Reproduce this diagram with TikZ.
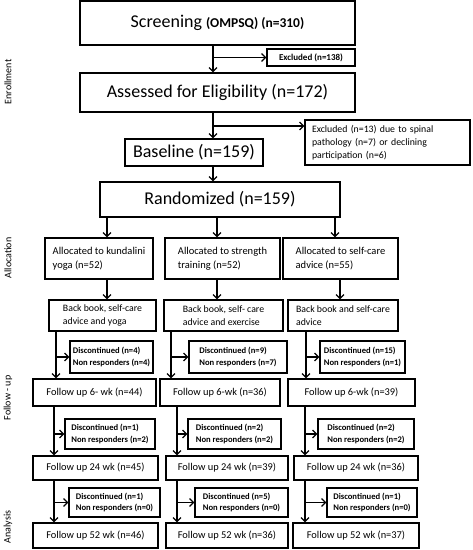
\documentclass[tikz,border=0pt]{standalone}
\usepackage{fontspec}
\setmainfont{Carlito}
\usetikzlibrary{arrows.meta}
\begin{document}
\begin{tikzpicture}[x=1pt,y=-1pt,
  box/.style={draw, line width=1.2pt, inner sep=0pt, align=center},
  big/.style={box, font=\fontsize{18}{21}\selectfont},
  fu/.style={box, font=\fontsize{10.4}{13}\selectfont},
  al/.style={box, align=left, font=\fontsize{10.5}{14}\selectfont},
  iv/.style={box, align=left, font=\fontsize{9.8}{12.5}\selectfont},
  dc/.style={box, align=left, font=\bfseries\fontsize{8.6}{11.5}\selectfont},
  ex/.style={box, align=left, font=\fontsize{9.8}{13}\selectfont},
  arr/.style={line width=1.2pt, -{Straight Barb[length=4pt,width=8pt]}},
  lab/.style={rotate=90, font=\fontsize{10}{12}\selectfont}]
\useasboundingbox (0,0) rectangle (473,550);

% side labels
\node[lab] (lenr) at (8,82) {Enrollment};
\node[lab] (lall) at (8,258) {Allocation};
\node[lab] (lfol) at (8,398) {Follow - up};
\node[lab] (lana) at (8,527) {Analysis};

% enrollment
\node[big, minimum width=275, minimum height=44] (scr) at (217.5,23)
  {Screening {\bfseries\fontsize{13.5}{15}\selectfont (OMPSQ) (n=310)}\strut};
\node[box, font=\bfseries\fontsize{9}{10}\selectfont, minimum width=88, minimum height=17] (ex1) at (311,57.5) {Excluded (n=138)};
\node[big, minimum width=275, minimum height=39] (ass) at (217.5,92.5) {Assessed for Eligibility (n=172)};
\node[ex, text width=151, inner xsep=7, minimum height=45] (ex2) at (387.5,142.5)
  {Excluded (n=13) due to spinal\\pathology (n=7) or declining\\participation (n=6)};
\node[big, minimum width=138, minimum height=27] (bas) at (194,152.5) {Baseline (n=159)};
\node[big, minimum width=240, minimum height=35] (rnd) at (220,199.5) {Randomized (n=159)};

% allocation
\node[al, minimum width=108, minimum height=41] (aL) at (99,258.5) {Allocated to kundalini\\yoga (n=52)};
\node[al, minimum width=115, minimum height=41] (aM) at (222.5,258.5) {Allocated to strength\\training (n=52)};
\node[al, minimum width=115, minimum height=41] (aR) at (340.5,258.5) {Allocated to self-care\\advice (n=55)};

\node[iv, minimum width=107, minimum height=31] (iL) at (102.5,315.5) {Back book, self-care\\advice and yoga};
\node[iv, minimum width=119, minimum height=31] (iM) at (223.5,315.5) {Back book, self- care\\advice and exercise};
\node[iv, minimum width=110, minimum height=31] (iR) at (343,315.5) {Back book and self-care\\advice};

% follow-up
\node[dc, minimum width=83, minimum height=32] (d1L) at (111.5,357) {Discontinued (n=4)\\Non responders (n=4)};
\node[dc, minimum width=98, minimum height=32] (d1M) at (238,357) {Discontinued (n=9)\\Non responders (n=7)};
\node[dc, minimum width=85, minimum height=32] (d1R) at (362.5,357) {Discontinued (n=15)\\Non responders (n=1)};

\node[fu, minimum width=123, minimum height=27] (f6L) at (94.5,392.5) {Follow up 6- wk (n=44)};
\node[fu, minimum width=120, minimum height=27] (f6M) at (220,392.5) {Follow up 6-wk (n=36)};
\node[fu, minimum width=127, minimum height=27] (f6R) at (351.5,392.5) {Follow up 6-wk (n=39)};

\node[dc, minimum width=90, minimum height=30] (d2L) at (110,434) {Discontinued (n=1)\\Non responders (n=2)};
\node[dc, minimum width=93, minimum height=30] (d2M) at (234.5,434) {Discontinued (n=2)\\Non responders (n=2)};
\node[dc, minimum width=96, minimum height=30] (d2R) at (366,434) {Discontinued (n=2)\\Non responders (n=2)};

\node[fu, minimum width=125, minimum height=24] (f24L) at (95.5,468) {Follow up 24 wk (n=45)};
\node[fu, minimum width=122, minimum height=24] (f24M) at (227,468) {Follow up 24 wk (n=39)};
\node[fu, minimum width=124, minimum height=24] (f24R) at (356,468) {Follow up 24 wk (n=36)};

% analysis
\node[dc, minimum width=91, minimum height=29] (d3L) at (114.5,502.5) {Discontinued (n=1)\\Non responders (n=0)};
\node[dc, minimum width=93, minimum height=29] (d3M) at (241.5,502.5) {Discontinued (n=5)\\Non responders (n=0)};
\node[dc, minimum width=90, minimum height=29] (d3R) at (372,502.5) {Discontinued (n=1)\\Non responders (n=0)};

\node[fu, minimum width=125, minimum height=25] (f52L) at (95.5,535.5) {Follow up 52 wk (n=46)};
\node[fu, minimum width=122, minimum height=25] (f52M) at (227,535.5) {Follow up 52 wk (n=36)};
\node[fu, minimum width=126, minimum height=25] (f52R) at (356,535.5) {Follow up 52 wk (n=37)};

% column coordinates
\coordinate (mx) at (213,0);
\coordinate (e2) at (0,126);
\coordinate (xa1) at (107,0); \coordinate (xa2) at (217,0); \coordinate (xa3) at (335,0);
\coordinate (xb1) at (107,0); \coordinate (xb2) at (217,0); \coordinate (xb3) at (340,0);
\coordinate (xc1) at (56,0);  \coordinate (xc2) at (171,0); \coordinate (xc3) at (306,0);
\coordinate (xd1) at (54,0);  \coordinate (xd2) at (177,0); \coordinate (xd3) at (305,0);

% enrollment connectors
\draw[arr] (mx |- scr.south) -- (mx |- ass.north);
\draw[arr] (mx |- ex1.west) -- (ex1.west);
\draw[arr] (mx |- ass.south) -- (mx |- bas.north);
\draw[arr] (mx |- e2) -- (ex2.west |- e2);
\draw[arr] (mx |- bas.south) -- (mx |- rnd.north);

% allocation connectors
\draw[arr] (xa1 |- rnd.south) -- (xa1 |- aL.north);
\draw[arr] (xa2 |- rnd.south) -- (xa2 |- aM.north);
\draw[arr] (xa3 |- rnd.south) -- (xa3 |- aR.north);
\draw[arr] (xb1 |- aL.south) -- (xb1 |- iL.north);
\draw[arr] (xb2 |- aM.south) -- (xb2 |- iM.north);
\draw[arr] (xb3 |- aR.south) -- (xb3 |- iR.north);

% follow-up 6 wk
\draw[arr] (xc1 |- iL.south) -- (xc1 |- f6L.north);
\draw[arr] (xc1 |- d1L.west) -- (d1L.west);
\draw[arr] (xc2 |- iM.south) -- (xc2 |- f6M.north);
\draw[arr] (xc2 |- d1M.west) -- (d1M.west);
\draw[arr] (xc3 |- iR.south) -- (xc3 |- f6R.north);
\draw[arr] (xc3 |- d1R.west) -- (d1R.west);

% follow-up 24 wk
\draw[arr] (xd1 |- f6L.south) -- (xd1 |- f24L.north);
\draw[arr] (xd1 |- d2L.west) -- (d2L.west);
\draw[arr] (xd2 |- f6M.south) -- (xd2 |- f24M.north);
\draw[arr] (xd2 |- d2M.west) -- (d2M.west);
\draw[arr] (xd3 |- f6R.south) -- (xd3 |- f24R.north);
\draw[arr] (xd3 |- d2R.west) -- (d2R.west);

% follow-up 52 wk
\draw[arr] (xd1 |- f24L.south) -- (xd1 |- f52L.north);
\draw[arr] (xd1 |- d3L.west) -- (d3L.west);
\draw[arr] (xd2 |- f24M.south) -- (xd2 |- f52M.north);
\draw[arr] (xd2 |- d3M.west) -- (d3M.west);
\draw[arr] (xd3 |- f24R.south) -- (xd3 |- f52R.north);
\draw[arr] (xd3 |- d3R.west) -- (d3R.west);
\end{tikzpicture}
\end{document}
